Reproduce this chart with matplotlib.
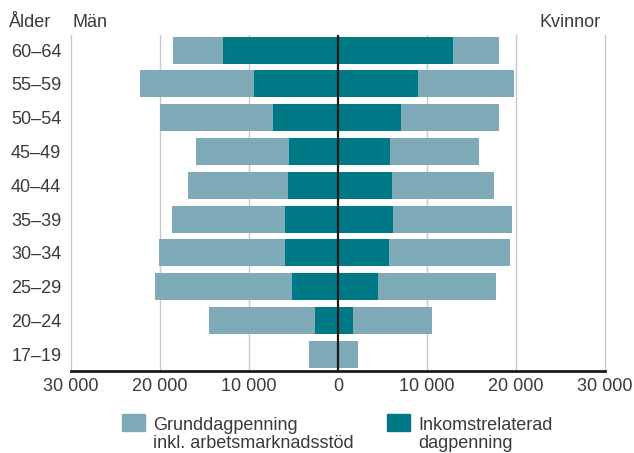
"""Population-pyramid style chart of unemployment benefit recipients by age and sex"""

import matplotlib
matplotlib.use("Agg")
import matplotlib.pyplot as plt
from matplotlib.patches import Rectangle

# age groups, top to bottom
age_groups = ["60–64", "55–59", "50–54", "45–49", "40–44",
              "35–39", "30–34", "25–29", "20–24", "17–19"]

# men: income-related benefit and total (income-related + basic)
men_inkomst = [12900, 9400, 7300, 5500, 5600, 6000, 5900, 5200, 2600, 0]
men_total = [18500, 22200, 19950, 15900, 16900, 18650, 20100, 20550, 14450, 3250]

# women
women_inkomst = [12950, 8950, 7050, 5850, 6100, 6150, 5750, 4500, 1700, 0]
women_total = [18050, 19800, 18050, 15850, 17550, 19600, 19300, 17700, 10600, 2200]

x_ticks = [-30000, -20000, -10000, 0, 10000, 20000, 30000]
x_tick_labels = ["30 000", "20 000", "10 000", "0", "10 000", "20 000", "30 000"]

LIGHT = "#7eabb7"
DARK = "#007987"
TEXT = "#3a3a3a"
GRID = "#c8c8c8"
FS = 13

W, H = 634, 453

plt.rcParams["font.family"] = ["Liberation Sans", "DejaVu Sans"]

fig = plt.figure(figsize=(W / 100, H / 100), dpi=100)
ax = fig.add_axes([71 / W, 1 - 371 / H, 534 / W, 336 / H])

# bottom row first on the y axis
ypos = list(range(len(age_groups)))[::-1]
men_grund = [t - i for t, i in zip(men_total, men_inkomst)]
women_grund = [t - i for t, i in zip(women_total, women_inkomst)]

bar_h = 0.8
ax.barh(ypos, [-v for v in men_inkomst], height=bar_h, color=DARK, zorder=2)
ax.barh(ypos, [-v for v in men_grund], left=[-v for v in men_inkomst],
        height=bar_h, color=LIGHT, zorder=2)
ax.barh(ypos, women_inkomst, height=bar_h, color=DARK, zorder=2)
ax.barh(ypos, women_grund, left=women_inkomst, height=bar_h, color=LIGHT, zorder=2)

ax.set_xlim(-30000, 30000)
ax.set_ylim(-0.5, len(age_groups) - 0.55)

ax.set_xticks(x_ticks)
ax.set_xticklabels(x_tick_labels, fontsize=FS, color=TEXT)
ax.set_yticks(ypos)
ax.set_yticklabels(age_groups, fontsize=FS, color=TEXT)
ax.tick_params(axis="both", length=0)
ax.tick_params(axis="x", pad=5)
ax.tick_params(axis="y", pad=7)

# vertical grid lines
for xv in x_ticks:
    if xv != 0:
        ax.axvline(xv, color=GRID, lw=1.0, zorder=1, clip_on=False)
ax.axvline(0, color="#1a1a1a", lw=1.6, zorder=3)

for side in ["top", "right", "left"]:
    ax.spines[side].set_visible(False)
ax.spines["bottom"].set_color("#1a1a1a")
ax.spines["bottom"].set_linewidth(2.0)
ax.spines["bottom"].set_zorder(4)

# headers
fig.text(9 / W, 1 - 27 / H, "Ålder", fontsize=FS, color=TEXT, va="baseline")
fig.text(72 / W, 1 - 27 / H, "Män", fontsize=FS, color=TEXT, va="baseline")
fig.text(601 / W, 1 - 27 / H, "Kvinnor", fontsize=FS, color=TEXT,
         va="baseline", ha="right")

# legend drawn by hand so the swatch sits at the first text line
legend_items = [
    (122, LIGHT, ["Grunddagpenning", "inkl. arbetsmarknadsstöd"]),
    (387, DARK, ["Inkomstrelaterad", "dagpenning"]),
]
for x0, col, lines in legend_items:
    fig.add_artist(Rectangle((x0 / W, 1 - 431 / H), 23 / W, 17 / H,
                             transform=fig.transFigure, color=col))
    for k, line in enumerate(lines):
        fig.text((x0 + 31) / W, 1 - (430 + 18 * k) / H, line,
                 fontsize=FS, color=TEXT, va="baseline")

fig.savefig("out.png", dpi=100)
